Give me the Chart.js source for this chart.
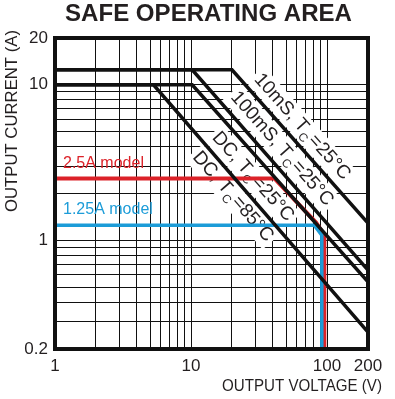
<!DOCTYPE html>
<html><head><meta charset="utf-8">
<script src="https://cdn.jsdelivr.net/npm/chart.js@4.4.0/dist/chart.umd.min.js"></script>
<style>html,body{margin:0;padding:0;background:#fff;}canvas{display:block;}</style>
</head><body>
<canvas id="c" width="395" height="399"></canvas>
<script>
// ---- tick values / labels ----
const xTickValues = [1,2,3,4,5,6,7,8,9,10,20,30,40,50,60,70,80,90,100,200];
const xTickLabels = [1,10,100,200];
const yTickValues = [0.2,0.3,0.4,0.5,0.6,0.7,0.8,0.9,1,2,3,4,5,6,7,8,9,10,20];
const yTickLabels = [0.2,1,10,20];

// ---- series (voltage V, current A) ----
const v10ms  = [1, 20, 200];      const i10ms  = [12.5, 12.5, 1.29];
const v100ms = [1, 10.2, 200];    const i100ms = [12.5, 12.5, 0.644];
const vDC25  = [1, 10.2, 200];    const iDC25  = [10, 10, 0.54];
const vDC85  = [1, 5.3, 200];     const iDC85  = [10, 10, 0.257];
const v25A   = [1, 41, 83, 95.5, 95.5];  const i25A   = [2.5, 2.5, 1.3, 1.08, 0.2];
const v125A  = [1, 80.5, 91.5, 91.5];    const i125A  = [1.25, 1.25, 1.08, 0.2];

const RED = '#dc2229', BLUE = '#1c9cd8', INK = '#231f20';
const FONT = "'Liberation Sans', Arial, Helvetica, sans-serif";

function pts(v, i){ return v.map((x,k)=>({x:x, y:i[k]})); }
function ds(v, i, color, w){
  return {data: pts(v,i), showLine:true, borderColor:color, backgroundColor:color,
          borderWidth:w, pointRadius:0, tension:0, borderJoinStyle:'miter', borderCapStyle:'butt'};
}

// curve annotations: text centre given in data units, angle taken from the series' sloped segment
const curveLabels = [
  {main:'10mS, T',  sub:'C', tail:'=25°C', v:66.5, i:5.43, sv:v10ms,  si:i10ms},
  {main:'100mS, T', sub:'C', tail:'=25°C', v:47.3, i:3.92, sv:v100ms, si:i100ms},
  {main:'DC, T',    sub:'C', tail:'=25°C', v:28.9, i:2.59, sv:vDC25,  si:iDC25},
  {main:'DC, T',    sub:'C', tail:'=85°C', v:20.6, i:1.93, sv:vDC85,  si:iDC85}
];
const CL_SIZE = 19;

function drawFitted(ctx, text, cx, cy, font, width, rot, color){
  ctx.save();
  ctx.font = font; ctx.fillStyle = color; ctx.textAlign='center'; ctx.textBaseline='middle';
  const m = ctx.measureText(text).width;
  ctx.translate(cx, cy); ctx.rotate(rot||0); ctx.scale(width/m, 1);
  ctx.fillText(text, 0, 0);
  ctx.restore();
}

const annot = {
  id:'annot',
  beforeDatasetsDraw(chart){
    const {ctx, scales:{x, y}} = chart;
    curveLabels.forEach(L=>{
      const px = x.getPixelForValue(L.v), py = y.getPixelForValue(L.i);
      const ax = x.getPixelForValue(L.sv[1]), ay = y.getPixelForValue(L.si[1]);
      const bx = x.getPixelForValue(L.sv[2]), by = y.getPixelForValue(L.si[2]);
      const ang = Math.atan2(by-ay, bx-ax);
      ctx.save();
      const fMain = CL_SIZE + 'px ' + FONT, fSub = Math.round(CL_SIZE*0.62) + 'px ' + FONT;
      ctx.font = fMain; const w1 = ctx.measureText(L.main).width, w3 = ctx.measureText(L.tail).width;
      ctx.font = fSub;  const w2 = ctx.measureText(L.sub).width;
      const tw = w1 + w2 + w3 + 1;
      ctx.translate(px, py); ctx.rotate(ang);
      ctx.fillStyle = '#fff';
      ctx.fillRect(-tw/2 - 3, -CL_SIZE*0.55, tw + 6, CL_SIZE*1.25);
      ctx.fillStyle = INK; ctx.textBaseline = 'middle'; ctx.textAlign = 'left';
      let cx = -tw/2;
      ctx.font = fMain; ctx.fillText(L.main, cx, 1); cx += w1;
      ctx.font = fSub;  ctx.fillText(L.sub, cx, CL_SIZE*0.42); cx += w2 + 1;
      ctx.font = fMain; ctx.fillText(L.tail, cx, 1);
      ctx.restore();
    });
    // model labels
    const l = chart.chartArea.left;
    ctx.save();
    ctx.font = '16px ' + FONT; ctx.textAlign='left'; ctx.textBaseline='middle';
    ctx.fillStyle = RED;  ctx.fillText('2.5A model', l + 8, y.getPixelForValue(2.5) - 15);
    ctx.fillStyle = BLUE; ctx.fillText('1.25A model', l + 8, y.getPixelForValue(1.25) - 16);
    ctx.restore();
  },
  afterDatasetsDraw(chart){
    const {ctx, chartArea:a} = chart;
    ctx.save();
    ctx.strokeStyle = '#111'; ctx.lineWidth = 4;
    ctx.strokeRect(a.left, a.top, a.right - a.left, a.bottom - a.top);
    ctx.restore();
  },
  afterDraw(chart){
    const {ctx} = chart;
    drawFitted(ctx, 'SAFE OPERATING AREA', 208.5, 15, 'bold 23px ' + FONT, 287, 0, INK);
    drawFitted(ctx, 'OUTPUT CURRENT (A)', 12, 121, '17px ' + FONT, 182, -Math.PI/2, INK);
    drawFitted(ctx, 'OUTPUT VOLTAGE (V)', 302, 387, '16px ' + FONT, 160, 0, INK);
  }
};

new Chart(document.getElementById('c'), {
  type: 'scatter',
  data: { datasets: [
    ds(v10ms, i10ms, '#111', 3.5),
    ds(v100ms, i100ms, '#111', 3.5),
    ds(vDC25, iDC25, '#111', 3.5),
    ds(vDC85, iDC85, '#111', 3.5),
    ds(v125A, i125A, BLUE, 3.5),
    ds(v25A, i25A, RED, 4)
  ]},
  options: {
    responsive:false, animation:false, events:[],
    layout:{ padding:{ left:0, right:27, top:38, bottom:0 } },
    plugins:{ legend:{display:false}, tooltip:{enabled:false}, title:{display:false} },
    scales:{
      x:{ type:'logarithmic', min:1, max:200,
          afterBuildTicks: s => { s.ticks = xTickValues.map(v=>({value:v})); },
          afterFit: s => { s.height = 50; },
          ticks:{ autoSkip:false, maxRotation:0, minRotation:0, padding:7, color:INK,
                  font:{family:FONT, size:17},
                  callback: v => xTickLabels.includes(v) ? String(v) : '' },
          grid:{ color:'#111', lineWidth:1, drawTicks:false },
          border:{ display:false } },
      y:{ type:'logarithmic', min:0.2, max:20,
          afterBuildTicks: s => { s.ticks = yTickValues.map(v=>({value:v})); },
          afterFit: s => { s.width = 55; },
          ticks:{ autoSkip:false, padding:7, color:INK,
                  font:{family:FONT, size:17},
                  callback: v => yTickLabels.includes(v) ? String(v) : '' },
          grid:{ color:'#111', lineWidth:1, drawTicks:false },
          border:{ display:false } }
    }
  },
  plugins:[annot]
});
</script>
</body></html>
